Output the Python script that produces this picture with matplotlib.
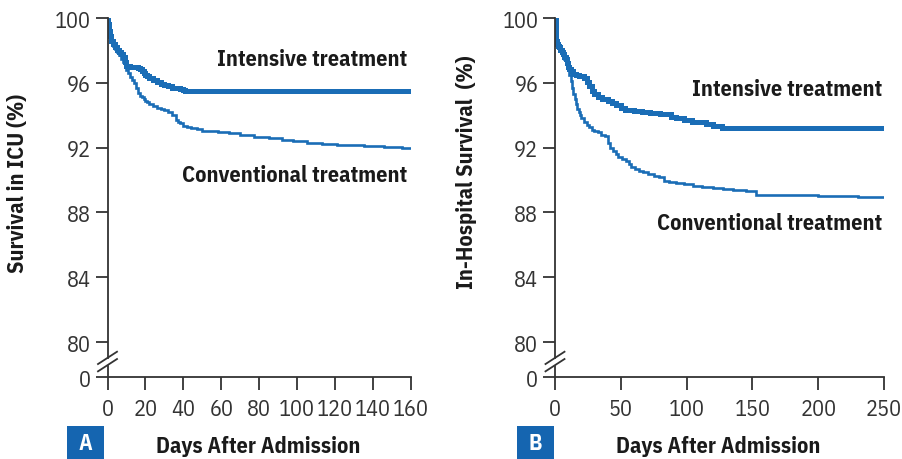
import matplotlib
matplotlib.use("Agg")
import matplotlib.pyplot as plt
from matplotlib.patches import Rectangle
from matplotlib.transforms import blended_transform_factory
from matplotlib.lines import Line2D

plt.rcParams['font.family'] = ['IBM Plex Sans Condensed', 'DejaVu Sans']

# ---------------- data ----------------
a_int_days = [0, 0.5, 1, 1.5, 2, 3, 4, 5, 6, 7, 8, 9, 10, 12, 14, 16, 17, 18, 19, 20, 21, 22, 24, 26, 28,
              30, 32, 34, 36, 38, 40, 41, 160]
a_int_surv = [100, 99.6, 99.2, 98.9, 98.6, 98.4, 98.2, 98.0, 97.9, 97.8, 97.6, 97.3, 97.05, 97.0, 97.0,
              96.9, 96.85, 96.7, 96.6, 96.5, 96.4, 96.3, 96.2, 96.05, 95.95, 95.85, 95.8, 95.7, 95.65,
              95.6, 95.55, 95.5, 95.5]

a_conv_days = [0, 0.5, 1, 2, 3, 4, 5, 6, 7, 8, 9, 10, 11, 12, 13, 14, 15, 16, 17, 18, 19, 20, 21, 22, 24,
               26, 28, 30, 32, 34, 36, 37, 38, 40, 42, 44, 47, 50, 54, 58, 64, 70, 77, 85, 92, 98, 105,
               113, 121, 135, 146, 155, 160]
a_conv_surv = [100, 99.6, 99.1, 98.6, 98.3, 98.1, 97.9, 97.7, 97.5, 97.3, 97.0, 96.8, 96.6, 96.35, 96.2,
               96.0, 95.7, 95.4, 95.2, 95.1, 95.0, 94.9, 94.8, 94.7, 94.55, 94.45, 94.4, 94.3, 94.2, 94.0,
               93.7, 93.6, 93.5, 93.35, 93.25, 93.2, 93.15, 93.05, 93.0, 92.95, 92.9, 92.8, 92.67, 92.6,
               92.5, 92.4, 92.3, 92.25, 92.18, 92.1, 92.04, 92.0, 91.96]

b_int_days = [0, 0.5, 1, 1.5, 2, 3, 4, 5, 6, 7, 8, 9, 10, 11, 12, 14, 16, 18, 20, 22, 24, 26, 28, 30,
              33, 36, 40, 43, 46, 50, 53, 56, 60, 66, 72, 80, 86, 88, 92, 98, 104, 110, 115, 120, 127, 250]
b_int_surv = [100, 99.3, 98.6, 98.4, 98.3, 98.2, 98.0, 97.9, 97.8, 97.6, 97.5, 97.2, 97.0, 96.85, 96.7,
              96.55, 96.5, 96.45, 96.44, 96.3, 96.05, 95.8, 95.5, 95.3, 95.1, 95.0, 94.9, 94.75, 94.6,
              94.45, 94.35, 94.3, 94.24, 94.18, 94.12, 94.08, 94.05, 93.87, 93.8, 93.68, 93.6, 93.55,
              93.46, 93.35, 93.2, 93.2]

b_conv_days = [0, 0.5, 1, 2, 3, 4, 5, 6, 7, 8, 9, 10, 11, 12, 13, 14, 15, 16, 17, 18, 19, 20, 22, 24, 26,
               28, 30, 33, 35, 38, 40, 42, 44, 46, 48, 51, 54, 56, 58, 61, 64, 67, 71, 75, 79, 83, 87,
               92, 98, 105, 112, 120, 128, 135, 145, 153, 170, 200, 230, 250]
b_conv_surv = [100, 99.3, 98.6, 98.3, 98.2, 98.0, 97.85, 97.7, 97.5, 97.3, 97.0, 96.85, 96.5, 96.13,
               95.7, 95.3, 95.0, 94.7, 94.4, 94.18, 94.0, 93.8, 93.6, 93.4, 93.3, 93.1, 93.0, 92.94,
               92.8, 92.73, 92.3, 92.0, 91.8, 91.6, 91.45, 91.3, 91.19, 91.0, 90.78, 90.65, 90.55,
               90.47, 90.35, 90.25, 90.17, 89.95, 89.86, 89.8, 89.75, 89.65, 89.55, 89.5, 89.45,
               89.38, 89.35, 89.07, 89.05, 89.0, 88.97, 88.95]

y_ticks = [80, 84, 88, 92, 96, 100]
y_tick_labels = ['80', '84', '88', '92', '96', '100']
a_x_ticks = [0, 20, 40, 60, 80, 100, 120, 140, 160]
b_x_ticks = [0, 50, 100, 150, 200, 250]

series_labels = ['Intensive treatment', 'Conventional treatment']
panel_letters = ['A', 'B']
y_labels = ['Survival in ICU (%)', 'In-Hospital Survival  (%)']
x_label = 'Days After Admission'

# ---------------- style ----------------
W, H = 902, 460
BLUE = '#1a6db6'
BOX = '#1565b0'
GRAY = '#333333'
DARK = '#1a1a1a'
FS = 16
Y_ZERO = 77.84   # position where the broken axis shows "0"

fig = plt.figure(figsize=(W / 100, H / 100), dpi=100)

def px_axes(left, right, top, bottom):
    return fig.add_axes([left / W, 1 - bottom / H, (right - left) / W, (bottom - top) / H])

axA = px_axes(107.5, 411, 19, 378)
axB = px_axes(555, 884, 19, 378)

panels = [
    (axA, a_int_days, a_int_surv, a_conv_days, a_conv_surv, a_x_ticks, 160,
     (157.9, 97.47), (157.9, 90.31), -0.295, 0.543, 66.7),
    (axB, b_int_days, b_int_surv, b_conv_days, b_conv_surv, b_x_ticks, 250,
     (248.3, 95.62), (248.3, 87.35), -0.27, 0.574, 516.7),
]

for i, (ax, idays, isurv, cdays, csurv, xt, xmax, ipos, cpos, ylx, yly, boxx) in enumerate(panels):
    ax.plot(cdays, csurv, drawstyle='steps-post', color=BLUE, lw=1.9, solid_joinstyle='miter')
    ax.plot(idays, isurv, drawstyle='steps-post', color=BLUE, lw=3.6, solid_joinstyle='miter')
    ax.set_xlim(0, xmax)
    ax.set_ylim(Y_ZERO, 100)
    ax.set_xticks(xt)
    ax.set_xticklabels([str(v) for v in xt])
    ax.set_yticks([Y_ZERO] + y_ticks)
    ax.set_yticklabels(['0'] + y_tick_labels)
    ax.tick_params(axis='both', direction='out', length=9, width=1.3, color=GRAY,
                   labelcolor=GRAY, labelsize=FS, pad=3)
    ax.tick_params(axis='x', pad=6)
    for s in ['top', 'right']:
        ax.spines[s].set_visible(False)
    ax.spines['bottom'].set_color(GRAY)
    ax.spines['bottom'].set_linewidth(1.3)
    ax.spines['left'].set_color(GRAY)
    ax.spines['left'].set_linewidth(1.3)
    ax.spines['left'].set_bounds(79.03, 100)
    bt = blended_transform_factory(ax.transAxes, ax.transData)
    wpx = ax.get_position().width * W
    d = 9.5 / wpx
    ax.add_line(Line2D([0, 0], [Y_ZERO, 78.54], transform=bt, color=GRAY, lw=1.3, clip_on=False))
    ax.add_line(Line2D([-d, d], [78.64, 79.40], transform=bt, color=GRAY, lw=1.3, clip_on=False))
    ax.add_line(Line2D([-d, d], [78.19, 78.95], transform=bt, color=GRAY, lw=1.3, clip_on=False))

    ax.text(ipos[0], ipos[1], series_labels[0], ha='right', va='center', fontsize=FS,
            fontweight='bold', color=DARK)
    ax.text(cpos[0], cpos[1], series_labels[1], ha='right', va='center', fontsize=FS,
            fontweight='bold', color=DARK)

    ax.set_ylabel(y_labels[i], fontsize=FS, fontweight='bold', color=DARK)
    ax.yaxis.set_label_coords(ylx, yly)
    ax.yaxis.label.set_va('center')
    ax.set_xlabel(x_label, fontsize=FS, fontweight='bold', color=DARK)
    ax.xaxis.set_label_coords(0.497, -0.19)
    ax.xaxis.label.set_va('center')

    fig.patches.append(Rectangle((boxx / W, 0), 37.3 / W, 33 / H, transform=fig.transFigure,
                                 facecolor=BOX, edgecolor='none'))
    fig.text((boxx + 18.6) / W, 16.5 / H, panel_letters[i], ha='center', va='center',
             fontsize=FS, fontweight='bold', color='white')

fig.savefig('out.png', dpi=100)
